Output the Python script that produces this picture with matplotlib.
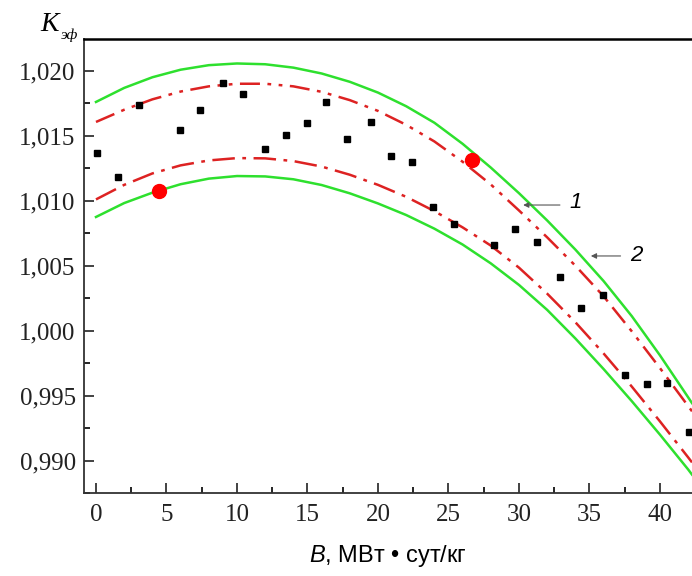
import numpy as np
import matplotlib
matplotlib.use("Agg")
import matplotlib.pyplot as plt
from matplotlib.ticker import MultipleLocator, FuncFormatter

# measured points (black squares)
burnup = [0.07, 1.56, 3.05, 5.96, 7.4, 9.0, 10.4, 12.0, 13.5, 15.0, 16.3, 17.8,
          19.5, 20.9, 22.4, 23.9, 25.4, 28.2, 29.7, 31.3, 32.9, 34.4, 35.96,
          37.5, 39.05, 40.5, 42.05]
k_eff = [1.01367, 1.01182, 1.01736, 1.01544, 1.01697, 1.01905, 1.01821, 1.01397,
         1.01505, 1.01598, 1.01759, 1.01474, 1.01605, 1.01343, 1.01297, 1.00954,
         1.00821, 1.00657, 1.00785, 1.00680, 1.00415, 1.00175, 1.00277, 0.99659,
         0.99590, 0.99600, 0.99223]

# highlighted points (red)
red_x = [4.5, 26.7]
red_y = [1.01075, 1.01313]

# curves
curve_x = [0, 2, 4, 6, 8, 10, 12, 14, 16, 18, 20, 22, 24, 26, 28, 30, 32, 34,
           36, 38, 40, 42, 42.27]

green_up = [1.01760, 1.01868, 1.01950, 1.02008, 1.02043, 1.02056, 1.02050, 1.02024,
            1.01979, 1.01915, 1.01832, 1.01727, 1.01600, 1.01438, 1.01255, 1.01058,
            1.00848, 1.00624, 1.00382, 1.00112, 0.99810, 0.99487, 0.99443]
red_up = [1.01606, 1.01700, 1.01780, 1.01840, 1.01880, 1.01900, 1.01900, 1.01880,
          1.01838, 1.01774, 1.01691, 1.01584, 1.01456, 1.01300, 1.01125, 1.00925,
          1.00718, 1.00500, 1.00265, 0.99995, 0.99712, 0.99420, 0.99380]
red_low = [1.01010, 1.01122, 1.01210, 1.01272, 1.01310, 1.01328, 1.01326, 1.01305,
           1.01263, 1.01200, 1.01122, 1.01030, 1.00920, 1.00795, 1.00655, 1.00485,
           1.00285, 1.00065, 0.99825, 0.99570, 0.99302, 0.99025, 0.98987]
green_low = [1.00875, 1.00982, 1.01062, 1.01127, 1.01170, 1.01190, 1.01187, 1.01165,
             1.01121, 1.01057, 1.00979, 1.00890, 1.00785, 1.00663, 1.00518, 1.00352,
             1.00160, 0.99940, 0.99705, 0.99458, 0.99200, 0.98932, 0.98893]

plt.rcParams['font.family'] = ['Liberation Serif', 'DejaVu Serif']
plt.rcParams['mathtext.fontset'] = 'custom'
plt.rcParams['mathtext.it'] = 'Liberation Sans:italic'
plt.rcParams['mathtext.rm'] = 'Liberation Sans'

fig = plt.figure(figsize=(6.92, 5.76), dpi=100)
ax = fig.add_axes([84 / 692, 1 - 493.3 / 576, 608 / 692, 454 / 576])

green = '#2ee02e'
red = '#dd2222'
ax.plot(curve_x, green_up, color=green, lw=1.8)
ax.plot(curve_x, green_low, color=green, lw=1.8)
ax.plot(curve_x, red_up, color=red, lw=1.8, dashes=[8, 3, 1.5, 3, 1.5, 3])
ax.plot(curve_x, red_low, color=red, lw=1.8, dashes=[9, 3, 1.5, 3])
ax.plot(burnup, k_eff, 's', color='black', ms=4.5, mec='black')
ax.plot(red_x, red_y, 'o', color='#ff0000', ms=10, mec='#ff0000')

ax.set_xlim(-0.85, 42.27)
ax.set_ylim(0.98749, 1.02242)

ax.xaxis.set_major_locator(MultipleLocator(5))
ax.xaxis.set_minor_locator(MultipleLocator(2.5))
ax.yaxis.set_major_locator(MultipleLocator(0.005))
ax.yaxis.set_minor_locator(MultipleLocator(0.0025))
ax.yaxis.set_major_formatter(FuncFormatter(lambda v, p: f"{v:.3f}".replace('.', ',')))
ax.tick_params(which='major', direction='in', length=7, width=1.2, labelsize=18,
               colors='#222222', pad=8)
ax.tick_params(which='minor', direction='in', length=4, width=1.2)
ax.tick_params(axis='y', pad=6)

ax.spines['right'].set_visible(False)
ax.spines['top'].set_linewidth(1.8)
for s in ['left', 'bottom']:
    ax.spines[s].set_linewidth(1.3)
    ax.spines[s].set_color('#333333')

ax.set_xlabel(r"$\mathit{B}$, МВт • сут/кг", family='Liberation Sans', fontsize=17,
              labelpad=12)

# y label: K with subscript
fig.text(40 / 692, 1 - 31 / 576, "K", fontsize=20, style='italic', va='baseline')
fig.text(61 / 692, 1 - 39 / 576, "эф", fontsize=11, style='italic', va='baseline')

# curve labels
arrow = dict(arrowstyle='-|>', color='#555555', lw=0.8, mutation_scale=8)
ax.annotate("", xy=(30.1, 1.00967), xytext=(33.1, 1.00967), arrowprops=arrow)
ax.text(33.6, 1.0099, "1", family='Liberation Sans', style='italic', fontsize=16,
        va='center')
ax.annotate("", xy=(34.9, 1.00575), xytext=(37.4, 1.00575), arrowprops=arrow)
ax.text(37.9, 1.0058, "2", family='Liberation Sans', style='italic', fontsize=16,
        va='center')

fig.savefig("out.png", dpi=100)
